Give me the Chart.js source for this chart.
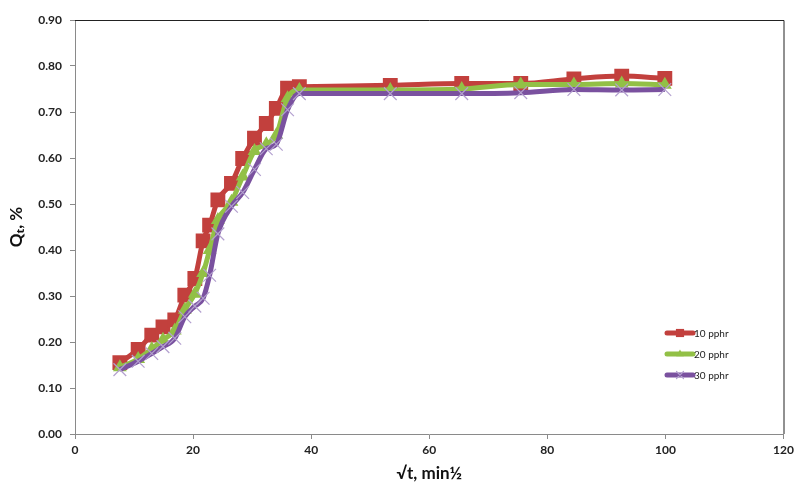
<!DOCTYPE html>
<html>
<head>
<meta charset="utf-8">
<script src="https://cdn.jsdelivr.net/npm/chart.js@4.4.1/dist/chart.umd.min.js"></script>
<style>
  html, body { margin: 0; padding: 0; background: #fff; }
  #wrap { width: 794px; height: 488px; }
</style>
</head>
<body>
<div id="wrap"><canvas id="chart" width="794" height="488"></canvas></div>
<script>
const sqrtTime = [7.6, 10.7, 13.0, 14.9, 16.9, 18.6, 20.3, 21.7, 22.8, 24.2, 26.5, 28.4, 30.4, 32.4, 34.1, 36.0, 38.0, 53.4, 65.5, 75.5, 84.5, 92.6, 99.9];
const q10 = [0.155, 0.184, 0.215, 0.233, 0.248, 0.302, 0.338, 0.420, 0.454, 0.509, 0.545, 0.599, 0.643, 0.675, 0.708, 0.752, 0.755, 0.758, 0.762, 0.762, 0.772, 0.778, 0.773];
const q20 = [0.145, 0.163, 0.185, 0.205, 0.225, 0.270, 0.305, 0.350, 0.400, 0.465, 0.505, 0.560, 0.615, 0.630, 0.650, 0.730, 0.748, 0.748, 0.750, 0.760, 0.760, 0.762, 0.759];
const q30 = [0.140, 0.158, 0.175, 0.190, 0.208, 0.255, 0.278, 0.295, 0.345, 0.435, 0.495, 0.525, 0.575, 0.620, 0.630, 0.705, 0.740, 0.740, 0.740, 0.742, 0.749, 0.748, 0.749];
const seriesNames = ["10 pphr", "20 pphr", "30 pphr"];
const xTicks = [0, 20, 40, 60, 80, 100, 120];
const yTicks = [0, 0.1, 0.2, 0.3, 0.4, 0.5, 0.6, 0.7, 0.8, 0.9];

const FONT = "Lato, 'Open Sans', sans-serif";

function toPoints(values) {
  return values.map((v, i) => ({ x: sqrtTime[i], y: v }));
}

// plot area border (top/right) like the Excel frame
const frame = {
  id: "frame",
  afterDraw(chart) {
    const { ctx, chartArea: a } = chart;
    ctx.save();
    ctx.strokeStyle = "#222";
    ctx.lineWidth = 1;
    ctx.beginPath();
    ctx.moveTo(a.left, a.top + 0.5);
    ctx.lineTo(a.right + 0.5, a.top + 0.5);
    ctx.lineTo(a.right + 0.5, a.bottom);
    ctx.stroke();
    ctx.restore();
  }
};

// legend inside the plot, line + marker
const insideLegend = {
  id: "insideLegend",
  afterDraw(chart) {
    const { ctx } = chart;
    const items = chart.data.datasets.slice().sort((a, b) => a.legendIndex - b.legendIndex);
    ctx.save();
    items.forEach((ds, k) => {
      const y = 333 + k * 21;
      ctx.strokeStyle = ds.borderColor;
      ctx.lineWidth = 5;
      ctx.lineCap = "round";
      ctx.beginPath();
      ctx.moveTo(667, y);
      ctx.lineTo(693, y);
      ctx.stroke();
      ctx.fillStyle = ds.pointBackgroundColor;
      ctx.strokeStyle = ds.pointBorderColor;
      ctx.lineWidth = ds.pointBorderWidth || 1;
      Chart.helpers.drawPoint(ctx, {
        pointStyle: ds.pointStyle,
        radius: ds.pointRadius * 0.55,
        rotation: 0,
        borderWidth: ds.pointBorderWidth
      }, 680, y);
      ctx.fillStyle = "#222";
      ctx.font = "10px " + FONT;
      ctx.textBaseline = "middle";
      ctx.fillText(seriesNames[ds.legendIndex], 694, y + 1);
    });
    ctx.restore();
  }
};

new Chart(document.getElementById("chart"), {
  type: "scatter",
  data: {
    datasets: [
      {
        label: seriesNames[0],
        legendIndex: 0,
        data: toPoints(q10),
        showLine: true,
        borderColor: "#c2403d",
        borderWidth: 5,
        cubicInterpolationMode: "monotone",
        pointStyle: "rect",
        pointRadius: 10.5,
        pointBackgroundColor: "#c2403d",
        pointBorderColor: "#c2403d",
        pointBorderWidth: 0,
        order: 3
      },
      {
        label: seriesNames[1],
        legendIndex: 1,
        data: toPoints(q20),
        showLine: true,
        borderColor: "#92c046",
        borderWidth: 5,
        cubicInterpolationMode: "monotone",
        pointStyle: "triangle",
        pointRadius: 8,
        pointBackgroundColor: "#92c046",
        pointBorderColor: "#92c046",
        pointBorderWidth: 0,
        order: 2
      },
      {
        label: seriesNames[2],
        legendIndex: 2,
        data: toPoints(q30),
        showLine: true,
        borderColor: "#7a519f",
        borderWidth: 5,
        cubicInterpolationMode: "monotone",
        pointStyle: "crossRot",
        pointRadius: 9,
        pointBackgroundColor: "#b3a0cf",
        pointBorderColor: "#b3a0cf",
        pointBorderWidth: 1.2,
        order: 1
      }
    ]
  },
  options: {
    responsive: false,
    animation: false,
    layout: { padding: { top: 20, right: 9, bottom: 0, left: 0 } },
    plugins: {
      legend: { display: false },
      tooltip: { enabled: false }
    },
    scales: {
      x: {
        type: "linear",
        min: 0,
        max: 120,
        afterBuildTicks(scale) { scale.ticks = xTicks.map((v) => ({ value: v })); },
        afterFit(scale) { scale.height = 54; scale.paddingLeft = 0; scale.paddingRight = 0; },
        grid: { drawOnChartArea: false, drawTicks: true, tickLength: 5, color: "#8a8a8a" },
        border: { color: "#8a8a8a" },
        ticks: { color: "#222", font: { family: FONT, size: 12, weight: "bold" }, padding: 4, maxRotation: 0 },
        title: { display: true, text: "√t, min½", color: "#111", font: { family: FONT, size: 17, weight: "bold" }, padding: { top: 4 } }
      },
      y: {
        type: "linear",
        min: 0,
        max: 0.9,
        afterBuildTicks(scale) { scale.ticks = yTicks.map((v) => ({ value: v })); },
        afterFit(scale) { scale.width = 75; scale.paddingTop = 0; scale.paddingBottom = 0; },
        grid: { drawOnChartArea: false, drawTicks: true, tickLength: 5, color: "#8a8a8a" },
        border: { color: "#8a8a8a" },
        ticks: { color: "#222", font: { family: FONT, size: 12, weight: "bold" }, padding: 8, callback: (v) => Number(v).toFixed(2) },
        title: { display: true, text: "Qₜ, %", color: "#111", font: { family: FONT, size: 17, weight: "bold" }, padding: { top: 6, bottom: 4 } }
      }
    }
  },
  plugins: [frame, insideLegend]
});
</script>
</body>
</html>
